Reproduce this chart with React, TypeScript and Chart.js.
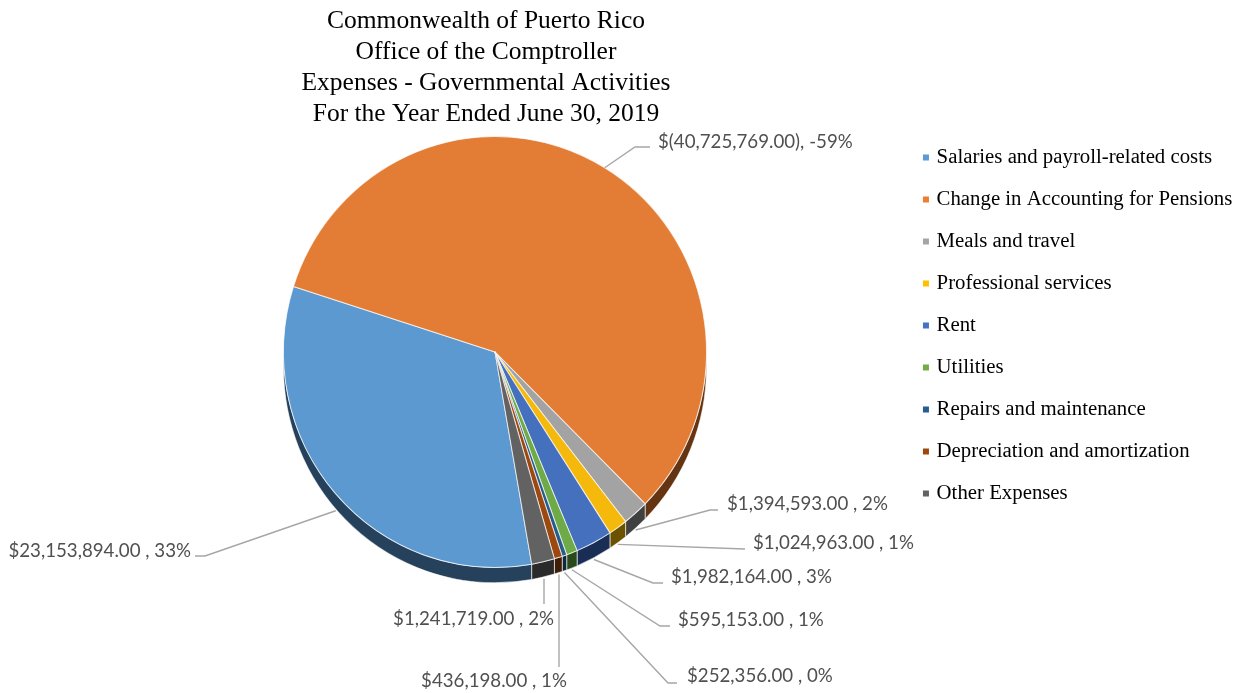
import React, { useEffect, useRef } from "react";
import { Chart, registerables } from "chart.js";

Chart.register(...registerables);

const titleLines = [
  "Commonwealth of Puerto Rico",
  "Office of the Comptroller",
  "Expenses - Governmental Activities",
  "For the Year Ended June 30, 2019",
];
const categories = [
  "Salaries and payroll-related costs",
  "Change in Accounting for Pensions",
  "Meals and travel",
  "Professional services",
  "Rent",
  "Utilities",
  "Repairs and maintenance",
  "Depreciation and amortization",
  "Other Expenses",
];
const expenses = [23153894, -40725769, 1394593, 1024963, 1982164, 595153, 252356, 436198, 1241719];
const percents = [33, -59, 2, 1, 3, 1, 0, 1, 2];

const sliceColors = ["#5B99D0", "#E37D35", "#A3A3A3", "#F5B90C", "#4570BE", "#6FAA48", "#265C8E", "#9C480F", "#626262"];
const legendColors = ["#5B9BD5", "#ED7D31", "#A5A5A5", "#FFC000", "#4472C4", "#70AD47", "#255E91", "#9E480E", "#636363"];
const wallColors = ["#25415C", "#653413", "#404040", "#6B5200", "#1A2D55", "#2B4A1C", "#10283E", "#401D06", "#2A2A2A"];

// Callout geometry: elbow point, line end, text anchor (x, text centre y, alignment).
const callouts = [
  { elbow: [205, 556], end: [195, 556], text: [191, 551], align: "right" },
  { elbow: [635, 147], end: [650, 147], text: [658, 141.5], align: "left" },
  { elbow: [710, 510], end: [718, 510], text: [727, 503.5], align: "left" },
  { elbow: [745, 549], end: [745, 549], text: [753, 542.5], align: "left" },
  { elbow: [653, 583], end: [663, 583], text: [671, 576.5], align: "left" },
  { elbow: [660, 626], end: [670, 626], text: [678, 619.5], align: "left" },
  { elbow: [668, 683], end: [677, 683], text: [687, 675.5], align: "left" },
  { elbow: [559, 667], end: [559, 667], text: [494, 681], align: "center" },
  { elbow: [544, 604], end: [544, 604], text: [473.5, 618.5], align: "center" },
];

const PIE_BOX = { left: 283, top: 140, right: 707, bottom: 564 };
const Y_SQUASH = 216 / 212;
const DEPTH = 15;
const ROTATION = 170;
const LABEL_FONT = "18.7px Lato";
const SERIF = "'Liberation Serif'";

const money = (v: number) => Math.abs(v).toLocaleString("en-US") + ".00";
const labelFor = (i: number) =>
  expenses[i] < 0 ? `$(${money(expenses[i])}), ${percents[i]}%` : `$${money(expenses[i])} , ${percents[i]}%`;

const placement = {
  id: "placement",
  afterLayout(chart: any) {
    const a = chart.chartArea;
    Object.assign(a, PIE_BOX, { width: PIE_BOX.right - PIE_BOX.left, height: PIE_BOX.bottom - PIE_BOX.top });
    const t = chart.titleBlock;
    t.left = 0; t.right = 972; t.width = 972;
    t.top = 5.5; t.bottom = t.top + t.height;
    const l = chart.legend;
    const pad = l.options.labels.padding;
    l.left = 925.7 - pad;
    l.right = 1243;
    l.top = 147 - pad;
    l.bottom = 693;
  },
};

const pieWall = {
  id: "pieWall",
  beforeDatasetsDraw(chart: any) {
    const { ctx } = chart;
    const first = chart.getDatasetMeta(0).data[0];
    ctx.save();
    ctx.translate(0, first.y);
    ctx.scale(1, Y_SQUASH);
    ctx.translate(0, -first.y);
    chart.getDatasetMeta(0).data.forEach((arc: any, i: number) => {
      const { x, y, outerRadius: r, startAngle, endAngle } = arc;
      for (const k of [0, 2]) {
        const a = Math.max(startAngle, k * Math.PI);
        const b = Math.min(endAngle, (k + 1) * Math.PI);
        if (b <= a) continue;
        ctx.save();
        ctx.beginPath();
        ctx.arc(x, y, r, a, b);
        ctx.arc(x, y + DEPTH, r, b, a, true);
        ctx.closePath();
        ctx.fillStyle = wallColors[i];
        ctx.strokeStyle = "rgba(255,255,255,0.6)";
        ctx.lineWidth = 1;
        ctx.fill();
        ctx.stroke();
        ctx.restore();
      }
    });
  },
  afterDatasetsDraw(chart: any) {
    chart.ctx.restore();
  },
};

const callout = {
  id: "callout",
  afterDatasetsDraw(chart: any) {
    const { ctx } = chart;
    chart.getDatasetMeta(0).data.forEach((arc: any, i: number) => {
      const mid = (arc.startAngle + arc.endAngle) / 2;
      const sx = arc.x + arc.outerRadius * Math.cos(mid);
      const dy = Math.sin(mid) > 0 ? DEPTH + 2 : 0;
      const sy = arc.y + arc.outerRadius * Y_SQUASH * Math.sin(mid) + dy;
      const c = callouts[i];
      ctx.save();
      ctx.strokeStyle = "#A6A6A6";
      ctx.lineWidth = 1.4;
      ctx.beginPath();
      ctx.moveTo(c.align === "center" ? c.elbow[0] : sx, sy);
      ctx.lineTo(c.elbow[0], c.elbow[1]);
      ctx.lineTo(c.end[0], c.end[1]);
      ctx.stroke();
      ctx.font = LABEL_FONT;
      ctx.fillStyle = "#505050";
      ctx.textBaseline = "middle";
      ctx.textAlign = c.align as CanvasTextAlign;
      ctx.fillText(labelFor(i), c.text[0], c.text[1]);
      ctx.restore();
    });
  },
};

export default function App() {
  const ref = useRef<HTMLCanvasElement>(null);
  useEffect(() => {
    document.body.style.margin = "0";
    const chart = new Chart(ref.current!, {
      type: "pie",
      data: {
        labels: categories,
        datasets: [
          {
            data: expenses.map((v) => Math.abs(v)),
            backgroundColor: sliceColors,
            borderColor: "rgba(255,255,255,0.7)",
            borderWidth: 1,
            clip: false,
          } as any,
        ],
      },
      options: {
        responsive: false,
        animation: false,
        devicePixelRatio: 1,
        rotation: ROTATION,
        plugins: {
          tooltip: { enabled: false },
          title: {
            display: true,
            text: titleLines,
            color: "#000000",
            font: { family: SERIF, size: 25.5, weight: "normal", lineHeight: 1.215 },
            padding: 0,
          },
          legend: {
            display: true,
            position: "right",
            align: "start",
            labels: {
              color: "#000000",
              font: { family: SERIF, size: 20.8 },
              usePointStyle: true,
              boxWidth: 0.5,
              boxHeight: 6,
              padding: 21.2,
              generateLabels: () =>
                categories.map((text, i) => ({
                  text,
                  fillStyle: legendColors[i],
                  strokeStyle: legendColors[i],
                  lineWidth: 0,
                  hidden: false,
                  index: i,
                  pointStyle: "rect",
                })),
            },
          },
        },
      } as any,
      plugins: [placement, pieWall, callout],
    });
    return () => chart.destroy();
  }, []);
  return <canvas ref={ref} width={1243} height={693} style={{ display: "block" }} />;
}
